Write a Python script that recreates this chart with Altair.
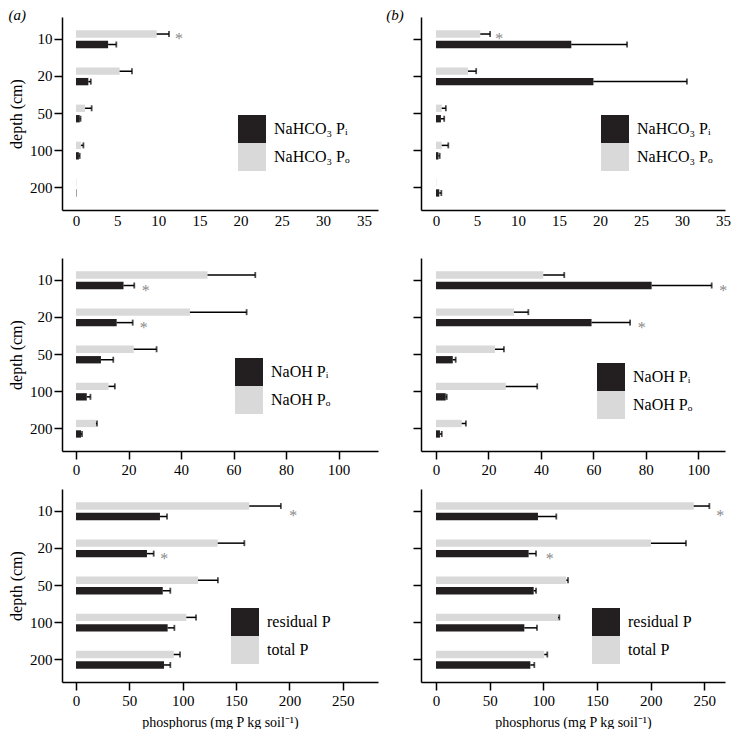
import altair as alt
import pandas as pd

FONT = "Liberation Serif"
DARK = "#231f20"
LIGHT = "#d9d9d9"
STAR = "#8a8a8a"

depths = ["10", "20", "50", "100", "200"]

# ---------- row 1: NaHCO3 ----------
row1_labels = ["NaHCO\u2083 P\u1d62", "NaHCO\u2083 P\u2092"]
a1_pi = [3.9, 1.5, 0.45, 0.35, 0.05]
a1_pi_err = [4.9, 1.8, 0.55, 0.45, None]
a1_po = [9.8, 5.3, 1.1, 0.6, 0.05]
a1_po_err = [11.3, 6.8, 1.9, 0.9, None]
a1_star_depth, a1_star_pos, a1_star_x = ["10"], ["Po"], [12.5]

b1_pi = [16.5, 19.2, 0.6, 0.3, 0.4]
b1_pi_err = [23.3, 30.6, 1.0, 0.45, 0.65]
b1_po = [5.4, 3.9, 0.7, 0.7, 0.05]
b1_po_err = [6.6, 4.9, 1.2, 1.5, None]
b1_star_depth, b1_star_pos, b1_star_x = ["10"], ["Po"], [7.7]

# ---------- row 2: NaOH ----------
row2_labels = ["NaOH P\u1d62", "NaOH P\u2092"]
a2_pi = [18.1, 15.5, 9.5, 4.1, 1.9]
a2_pi_err = [22.2, 21.6, 14.2, 5.5, 2.3]
a2_po = [50.1, 43.4, 22.0, 12.4, 7.6]
a2_po_err = [68.3, 65.0, 30.7, 14.8, 8.0]
a2_star_depth, a2_star_pos, a2_star_x = ["10", "20"], ["Pi", "Pi"], [26.6, 25.8]

b2_pi = [82.2, 59.3, 6.4, 3.7, 1.5]
b2_pi_err = [105.1, 74.0, 7.5, 4.1, 2.2]
b2_po = [40.9, 29.7, 22.5, 26.6, 9.8]
b2_po_err = [48.9, 35.2, 25.9, 38.6, 11.4]
b2_star_depth, b2_star_pos, b2_star_x = ["10", "20"], ["Pi", "Pi"], [109.5, 78.4]

# ---------- row 3: residual / total ----------
row3_labels = ["residual P", "total P"]
a3_pi = [78.7, 66.5, 81.3, 85.9, 82.5]
a3_pi_err = [85.3, 72.8, 88.4, 92.2, 88.4]
a3_po = [162.4, 132.8, 114.3, 103.4, 91.6]
a3_po_err = [192.0, 157.8, 133.0, 112.5, 97.5]
a3_star_depth, a3_star_pos, a3_star_x = ["10", "20"], ["mid", "Pi"], [203.7, 82.8]

b3_pi = [95.0, 86.3, 91.0, 82.3, 87.9]
b3_pi_err = [112.1, 93.2, 93.2, 94.1, 91.6]
b3_po = [240.1, 200.3, 121.4, 113.7, 100.9]
b3_po_err = [254.7, 232.9, 123.0, 114.9, 103.7]
b3_star_depth, b3_star_pos, b3_star_x = ["10", "20"], ["mid", "Pi"], [264.9, 105.9]

x_ticks_1 = [0, 5, 10, 15, 20, 25, 30, 35]
x_ticks_2 = [0, 20, 40, 60, 80, 100]
x_ticks_3 = [0, 50, 100, 150, 200, 250]

W_LEFT = 316
W_RIGHT = 304
H = 193


def make_df(labels, pi, pi_err, po, po_err):
    rows = []
    for d, v, e in zip(depths, pi, pi_err):
        rows.append({"depth": d, "sub": "Pi", "series": labels[0], "value": v, "err": e})
    for d, v, e in zip(depths, po, po_err):
        rows.append({"depth": d, "sub": "Po", "series": labels[1], "value": v, "err": e})
    return pd.DataFrame(rows)


def make_stars(ds, ps, xs):
    return pd.DataFrame({"depth": ds, "pos": ps, "x": xs})


def panel(df, stars, labels, xdomain, xticks, left, legend_xy, width,
          xtick_on=True, title=None, title_dx=0, xtitle=None):
    yscale = alt.Scale(paddingInner=0.52, paddingOuter=0.36)
    if left:
        yaxis = alt.Axis(title="depth (cm)", labels=True, titleFont=FONT,
                         titleFontSize=16, titleFontWeight="normal",
                         titlePadding=5, titleColor="black")
    else:
        yaxis = alt.Axis(title=None, labels=False)
    y = alt.Y("depth:N", sort=depths, scale=yscale, axis=yaxis)
    yoff = alt.YOffset("sub:N", sort=["Po", "Pi"],
                       scale=alt.Scale(domain=["Po", "Pi"], paddingInner=0.3))
    xscale = alt.Scale(domain=xdomain, nice=False, zero=False)
    xaxis = alt.Axis(values=xticks, title=xtitle, titleFont=FONT,
                     titleFontSize=14, titleFontWeight="normal",
                     titlePadding=7, titleColor="black",
                     ticks=xtick_on, tickSize=8 if xtick_on else 0)

    base = alt.Chart(df)
    bars = base.mark_bar().encode(
        x=alt.X("value:Q", scale=xscale, axis=xaxis, title=xtitle),
        x2=alt.datum(0),
        y=y,
        yOffset=yoff,
        color=alt.Color(
            "series:N",
            scale=alt.Scale(domain=labels, range=[DARK, LIGHT]),
            legend=alt.Legend(
                orient="none", legendX=legend_xy[0], legendY=legend_xy[1],
                title=None, symbolType="square", symbolSize=28 * 28,
                symbolStrokeWidth=0, symbolOpacity=1, rowPadding=0,
                labelFont=FONT, labelFontSize=16, labelOffset=8,
                labelColor="black", padding=0,
            ),
        ),
    )
    errdf = base.transform_filter("isValid(datum.err)")
    errline = errdf.mark_bar(height=1.5, color="black").encode(
        x=alt.X("value:Q", scale=xscale, axis=xaxis, title=xtitle),
        x2="err:Q",
        y=y,
        yOffset=yoff,
    )
    caps = errdf.mark_tick(orient="vertical", size=6, thickness=1.8,
                           color="black").encode(
        x=alt.X("err:Q", scale=xscale, axis=xaxis, title=xtitle),
        y=y,
        yOffset=yoff,
    )
    sbase = alt.Chart(stars)
    star_rows = sbase.transform_filter("datum.pos != 'mid'").mark_text(
        text="*", font=FONT, fontSize=16, color=STAR, baseline="alphabetic",
        dy=10, align="center"
    ).encode(
        x=alt.X("x:Q", scale=xscale, axis=xaxis, title=xtitle),
        y=y,
        yOffset=alt.YOffset("pos:N", sort=["Po", "Pi"],
                            scale=alt.Scale(domain=["Po", "Pi"], paddingInner=0.3)),
    )
    star_mid = sbase.transform_filter("datum.pos == 'mid'").mark_text(
        text="*", font=FONT, fontSize=16, color=STAR, baseline="alphabetic",
        dy=10, align="center"
    ).encode(
        x=alt.X("x:Q", scale=xscale, axis=xaxis, title=xtitle),
        y=y,
    )
    props = dict(width=width, height=H)
    if title is not None:
        props["title"] = alt.TitleParams(
            text=title, anchor="start", frame="bounds", font=FONT,
            fontSize=15, fontStyle="italic", fontWeight="normal",
            offset=-6, dx=title_dx, color="black")
    return alt.layer(bars, errline, caps, star_rows, star_mid).properties(**props)


def dom(ppu, off, width):
    return [-off / ppu, (width - off) / ppu]


p_a1 = panel(make_df(row1_labels, a1_pi, a1_pi_err, a1_po, a1_po_err),
             make_stars(a1_star_depth, a1_star_pos, a1_star_x), row1_labels,
             dom(8.23, 14, W_LEFT), x_ticks_1, True, (176, 98), W_LEFT,
             xtick_on=False, title="(a)", title_dx=0)
p_b1 = panel(make_df(row1_labels, b1_pi, b1_pi_err, b1_po, b1_po_err),
             make_stars(b1_star_depth, b1_star_pos, b1_star_x), row1_labels,
             dom(8.2, 15, W_RIGHT), x_ticks_1, False, (180, 98), W_RIGHT,
             xtick_on=False, title="(b)", title_dx=-26)
p_a2 = panel(make_df(row2_labels, a2_pi, a2_pi_err, a2_po, a2_po_err),
             make_stars(a2_star_depth, a2_star_pos, a2_star_x), row2_labels,
             dom(2.625, 14, W_LEFT), x_ticks_2, True, (173, 100), W_LEFT)
p_b2 = panel(make_df(row2_labels, b2_pi, b2_pi_err, b2_po, b2_po_err),
             make_stars(b2_star_depth, b2_star_pos, b2_star_x), row2_labels,
             dom(2.623, 15, W_RIGHT), x_ticks_2, False, (176, 105), W_RIGHT)
xt = "phosphorus (mg P kg soil\u207b\u00b9)"
p_a3 = panel(make_df(row3_labels, a3_pi, a3_pi_err, a3_po, a3_po_err),
             make_stars(a3_star_depth, a3_star_pos, a3_star_x), row3_labels,
             dom(1.067, 14, W_LEFT), x_ticks_3, True, (169, 119), W_LEFT,
             xtitle=xt)
p_b3 = panel(make_df(row3_labels, b3_pi, b3_pi_err, b3_po, b3_po_err),
             make_stars(b3_star_depth, b3_star_pos, b3_star_x), row3_labels,
             dom(1.0733, 15, W_RIGHT), x_ticks_3, False, (171, 119), W_RIGHT,
             xtitle=xt)

row1 = alt.hconcat(p_a1, p_b1, spacing=8).resolve_scale(color="independent")
row2 = alt.hconcat(p_a2, p_b2, spacing=34).resolve_scale(color="independent")
row3 = alt.hconcat(p_a3, p_b3, spacing=34).resolve_scale(color="independent")
lower = alt.vconcat(row2, row3, spacing=12).resolve_scale(color="independent")

chart = (
    alt.vconcat(row1, lower, spacing=30)
    .resolve_scale(color="independent")
    .properties(padding=0, background="white")
    .configure_view(stroke=None)
    .configure_axis(
        grid=False, domainColor="black", domainWidth=1.5, tickColor="black",
        tickWidth=1.5, labelFont=FONT, labelFontSize=15,
        labelColor="black",
    )
    .configure_axisX(labelPadding=3)
    .configure_axisY(labelPadding=2, tickSize=8)
)

chart.save("out.html", embed_options={"renderer": "svg", "actions": False})
